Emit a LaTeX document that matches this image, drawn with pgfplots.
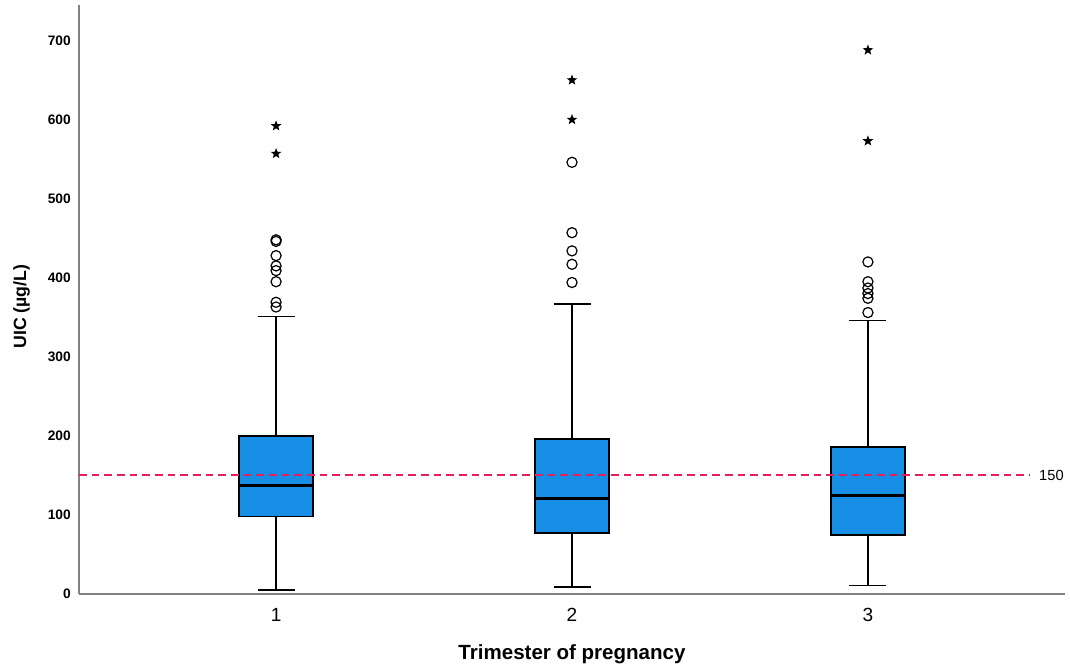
\documentclass[border=0pt]{standalone}
\usepackage{pgfplots}
\pgfplotsset{compat=1.18}
\usepgfplotslibrary{statistics}
\usepackage{fontspec}
\setmainfont{Liberation Sans}
\definecolor{boxblue}{RGB}{22,142,230}
\definecolor{refred}{RGB}{230,30,90}
\definecolor{spine}{RGB}{130,130,130}
\pgfdeclareplotmark{fstar}{%
  \pgfpathmoveto{\pgfpointpolar{90}{\pgfplotmarksize}}%
  \pgfpathlineto{\pgfpointpolar{126}{0.42\pgfplotmarksize}}%
  \pgfpathlineto{\pgfpointpolar{162}{\pgfplotmarksize}}%
  \pgfpathlineto{\pgfpointpolar{198}{0.42\pgfplotmarksize}}%
  \pgfpathlineto{\pgfpointpolar{234}{\pgfplotmarksize}}%
  \pgfpathlineto{\pgfpointpolar{270}{0.42\pgfplotmarksize}}%
  \pgfpathlineto{\pgfpointpolar{306}{\pgfplotmarksize}}%
  \pgfpathlineto{\pgfpointpolar{342}{0.42\pgfplotmarksize}}%
  \pgfpathlineto{\pgfpointpolar{18}{\pgfplotmarksize}}%
  \pgfpathlineto{\pgfpointpolar{54}{0.42\pgfplotmarksize}}%
  \pgfpathclose\pgfusepathqfill}
\begin{document}
\begin{tikzpicture}
\useasboundingbox (0,0) rectangle (802.5pt,501pt);
\begin{axis}[
  at={(59.25pt,55.5pt)}, anchor=south west,
  scale only axis, width=739.5pt, height=441.75pt,
  xmin=0.334, xmax=3.666, ymin=0, ymax=745,
  axis x line*=bottom, axis y line*=left,
  axis line style={draw=spine, line width=1.1pt},
  xtick={1,2,3}, ytick={0,100,...,700},
  major tick length=0pt,
  /pgf/number format/assume math mode=true,
  yticklabel style={font=\fontsize{10.3}{12}\selectfont\bfseries, anchor=east, inner sep=0pt, xshift=-6pt},
  xticklabel style={font=\fontsize{14.3}{16}\selectfont, anchor=base, yshift=-20.5pt},
  xlabel={Trimester of pregnancy},
  ylabel={UIC (µg/L)},
  xlabel style={font=\fontsize{15.4}{17}\selectfont\bfseries, at={(axis description cs:0.5,-0.112)}, anchor=base},
  ylabel style={font=\fontsize{13.3}{15}\selectfont\bfseries, at={(axis description cs:-0.0583,0.488)}, anchor=center},
  clip=false,
  boxplot/draw direction=y,
  boxplot/box extend=0.25,
  boxplot/whisker extend=0.125,
  boxplot/every box/.style={fill=boxblue, draw=black, line width=1.2pt},
  boxplot/every whisker/.style={black, line width=1.1pt},
  boxplot/every median/.style={black, line width=2.2pt},
]
\addplot[boxplot prepared={draw position=1, lower whisker=5, lower quartile=98, median=137, upper quartile=200, upper whisker=351}] coordinates {};
\addplot[boxplot prepared={draw position=2, lower whisker=9, lower quartile=77, median=121, upper quartile=196, upper whisker=367}] coordinates {};
\addplot[boxplot prepared={draw position=3, lower whisker=11, lower quartile=75, median=125, upper quartile=186, upper whisker=346}] coordinates {};

\addplot[only marks, mark=o, mark size=3.8pt, mark options={line width=0.9pt, black}] coordinates {
 (1,448) (1,446) (1,428) (1,415) (1,409) (1,395) (1,369) (1,363)
 (2,546) (2,457) (2,434) (2,417) (2,394)
 (3,420) (3,395) (3,387) (3,380) (3,374) (3,356)
};
\addplot[only marks, mark=fstar, mark size=4.2pt, black] coordinates {
 (1,592) (1,557)
 (2,650) (2,600)
 (3,688) (3,573)
};

\addplot[sharp plot, draw=refred, solid, line width=1.4pt, dash pattern=on 5.7pt off 3.8pt, mark=none] coordinates {(0.334,150) (3.547,150)};
\node[anchor=west, font=\fontsize{11}{13}\selectfont, inner sep=0pt] at (axis cs:3.578,150) {150};
\end{axis}
\end{tikzpicture}
\end{document}
